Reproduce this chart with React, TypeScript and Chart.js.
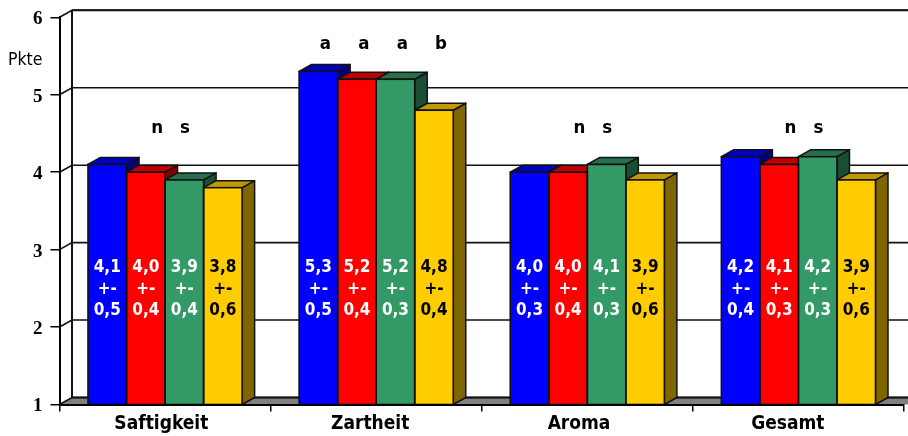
import React, { useEffect, useRef } from "react";
import { Chart, registerables, type Plugin } from "chart.js";

Chart.register(...registerables);

const categories = ["Saftigkeit", "Zartheit", "Aroma", "Gesamt"];
const seriesNames = ["A", "B", "C", "D"];
const seriesA = [4.1, 5.3, 4.0, 4.2];
const seriesB = [4.0, 5.2, 4.0, 4.1];
const seriesC = [3.9, 5.2, 4.1, 4.2];
const seriesD = [3.8, 4.8, 3.9, 3.9];
const spreadA = [0.5, 0.5, 0.3, 0.4];
const spreadB = [0.4, 0.4, 0.4, 0.3];
const spreadC = [0.4, 0.3, 0.3, 0.3];
const spreadD = [0.6, 0.4, 0.6, 0.6];
const values = [seriesA, seriesB, seriesC, seriesD];
const spreads = [spreadA, spreadB, spreadC, spreadD];
const frontColors = ["#0000FF", "#FF0000", "#339966", "#FFCC00"];
const topColors = ["#0000BF", "#BF0000", "#266F4C", "#BF9900"];
const sideColors = ["#000080", "#800000", "#1A4D33", "#806600"];
const labelColors = ["#FFFFFF", "#FFFFFF", "#FFFFFF", "#000000"];
const groupLetters = ["n s", "", "n s", "n s"];
const barLetters = [[], ["a", "a", "a", "b"], [], []];

const DEPTH_X = 12.5;
const DEPTH_Y = 7;
const SANS = '"DejaVu Sans Condensed", "DejaVu Sans", sans-serif';
const decimal = (v: number) => v.toFixed(1).replace(".", ",");

// Back wall, side wall and floor of the 3D plot box.
const wallsPlugin: Plugin<"bar"> = {
  id: "walls",
  beforeDatasetsDraw(chart) {
    const { ctx, chartArea, scales } = chart;
    const y = scales.y;
    const { left, right, bottom, top } = chartArea;
    ctx.save();
    ctx.fillStyle = "#808080";
    ctx.strokeStyle = "#111";
    ctx.lineWidth = 2;
    ctx.beginPath();
    ctx.moveTo(left, bottom);
    ctx.lineTo(left + DEPTH_X, bottom - DEPTH_Y);
    ctx.lineTo(right + DEPTH_X + 4, bottom - DEPTH_Y);
    ctx.lineTo(right + 4, bottom);
    ctx.closePath();
    ctx.fill();
    ctx.beginPath();
    ctx.moveTo(left + DEPTH_X, bottom - DEPTH_Y);
    ctx.lineTo(right + DEPTH_X + 4, bottom - DEPTH_Y);
    ctx.stroke();
    ctx.lineWidth = 1.6;
    for (const tick of y.ticks) {
      const py = y.getPixelForValue(tick.value);
      ctx.beginPath();
      ctx.moveTo(left, py);
      ctx.lineTo(left + DEPTH_X, py - DEPTH_Y);
      ctx.lineTo(right + DEPTH_X + 4, py - DEPTH_Y);
      ctx.stroke();
    }
    ctx.lineWidth = 2;
    ctx.beginPath();
    ctx.moveTo(left + DEPTH_X, top - DEPTH_Y);
    ctx.lineTo(right + DEPTH_X + 4, top - DEPTH_Y);
    ctx.moveTo(left + DEPTH_X, top - DEPTH_Y);
    ctx.lineTo(left + DEPTH_X, bottom - DEPTH_Y);
    ctx.stroke();
    ctx.restore();
  },
};

// Top and side faces of the bars, left to right, underneath all the front faces.
const facesPlugin: Plugin<"bar"> = {
  id: "faces",
  beforeDatasetsDraw(chart) {
    const { ctx, chartArea } = chart;
    const base = chartArea.bottom;
    ctx.save();
    ctx.strokeStyle = "#111";
    ctx.lineWidth = 1.5;
    ctx.lineJoin = "round";
    categories.forEach((_, i) => {
      values.forEach((_series, s) => {
        const el: any = chart.getDatasetMeta(s).data[i];
        const { x, y, width } = el.getProps(["x", "y", "width"], true);
        const l = x - width / 2;
        const r = x + width / 2;
        ctx.fillStyle = sideColors[s];
        ctx.beginPath();
        ctx.moveTo(r, y);
        ctx.lineTo(r + DEPTH_X, y - DEPTH_Y);
        ctx.lineTo(r + DEPTH_X, base - DEPTH_Y);
        ctx.lineTo(r, base);
        ctx.closePath();
        ctx.fill();
        ctx.stroke();
        ctx.fillStyle = topColors[s];
        ctx.beginPath();
        ctx.moveTo(l, y);
        ctx.lineTo(l + DEPTH_X, y - DEPTH_Y);
        ctx.lineTo(r + DEPTH_X, y - DEPTH_Y);
        ctx.lineTo(r, y);
        ctx.closePath();
        ctx.fill();
        ctx.stroke();
      });
    });
    ctx.restore();
  },
};

// Outlines of the front faces, then mean and spread, significance letters, category names and unit.
const annotationPlugin: Plugin<"bar"> = {
  id: "annotations",
  afterDatasetsDraw(chart) {
    const { ctx, scales, chartArea } = chart;
    const y = scales.y;
    const x = scales.x;
    ctx.save();
    ctx.strokeStyle = "#111";
    ctx.lineWidth = 1.6;
    values.forEach((series, s) => {
      const meta = chart.getDatasetMeta(s);
      series.forEach((_v, i) => {
        const el: any = meta.data[i];
        const { x: bx, y: by, width } = el.getProps(["x", "y", "width"], true);
        ctx.strokeRect(bx - width / 2, by, width, chartArea.bottom - by);
      });
    });
    ctx.textAlign = "center";
    ctx.textBaseline = "middle";
    ctx.font = `bold 17px ${SANS}`;
    values.forEach((series, s) => {
      const meta = chart.getDatasetMeta(s);
      ctx.fillStyle = labelColors[s];
      series.forEach((v, i) => {
        const cx = meta.data[i].x;
        const mid = y.getPixelForValue(2.49);
        ctx.fillText(decimal(v), cx, mid - 22);
        ctx.fillText("+-", cx, mid);
        ctx.fillText(decimal(spreads[s][i]), cx, mid + 21);
      });
    });
    ctx.fillStyle = "#000";
    ctx.font = `bold 18.5px ${SANS}`;
    groupLetters.forEach((pair, i) => {
      if (!pair) return;
      const cx = x.getPixelForValue(i);
      const [first, second] = pair.split(" ");
      const py = y.getPixelForValue(4.57);
      ctx.fillText(first, cx - 8, py);
      ctx.fillText(second, cx + 20, py);
    });
    barLetters.forEach((letters, i) => {
      letters.forEach((letter, s) => {
        const cx = chart.getDatasetMeta(s).data[i].x;
        ctx.fillText(letter, cx + 7, y.getPixelForValue(5.65));
      });
    });
    // Category names drift slightly left of their groups along the axis.
    ctx.font = `bold 19px ${SANS}`;
    categories.forEach((name, i) => {
      ctx.fillText(name, x.getPixelForValue(i) - 3.7 - 2.3 * i, 424);
    });
    ctx.font = `17.5px ${SANS}`;
    ctx.textAlign = "left";
    ctx.fillText("Pkte", 8, 60);
    ctx.restore();
  },
};

export default function App() {
  const ref = useRef<HTMLCanvasElement>(null);
  useEffect(() => {
    if (!ref.current) return;
    const chart = new Chart(ref.current, {
      type: "bar",
      data: {
        labels: categories,
        datasets: values.map((data, i) => ({
          label: seriesNames[i],
          data,
          backgroundColor: frontColors[i],
          borderWidth: 0,
          categoryPercentage: 0.73,
          barPercentage: 1,
        })),
      },
      options: {
        responsive: false,
        animation: false,
        layout: { padding: { top: 17.3, right: 4, left: 0, bottom: 0 } },
        plugins: { legend: { display: false }, tooltip: { enabled: false }, title: { display: false } },
        scales: {
          x: {
            afterFit: (s: any) => { s.height = 31.5; s.paddingLeft = 0; s.paddingRight = 0; },
            border: { color: "#000", width: 2, z: 1 },
            grid: { drawOnChartArea: false, drawTicks: true, tickLength: 7, color: "#000", lineWidth: 1.5, offset: true },
            ticks: { display: false },
          },
          y: {
            min: 1,
            max: 6,
            afterFit: (s: any) => { s.width = 59.5; s.paddingTop = 0; s.paddingBottom = 0; },
            border: { color: "#000", width: 2, z: 1 },
            grid: { drawOnChartArea: false, drawTicks: true, tickLength: 9, color: "#000", lineWidth: 1.5 },
            ticks: { stepSize: 1, color: "#000", padding: 8, labelOffset: 2, font: { family: '"Liberation Serif", serif', weight: "bold", size: 19 } },
          },
        },
      },
      plugins: [wallsPlugin, facesPlugin, annotationPlugin],
    });
    return () => chart.destroy();
  }, []);
  return (
    <div style={{ position: "fixed", left: 0, top: 0, width: 908, height: 436, background: "#fff" }}>
      <canvas ref={ref} width={908} height={436} style={{ display: "block" }} />
    </div>
  );
}
